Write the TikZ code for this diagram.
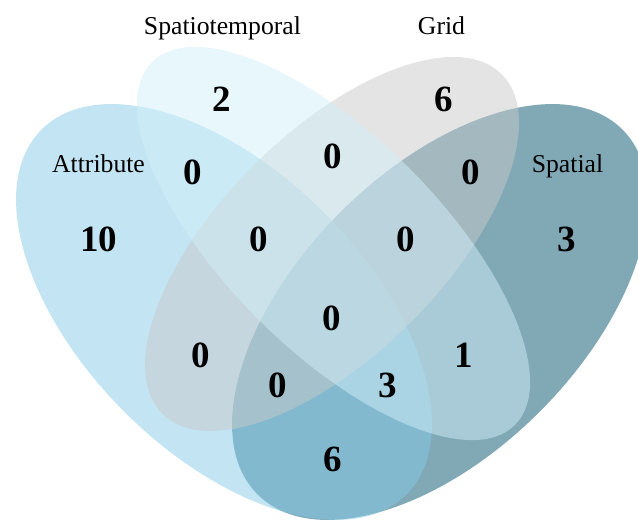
\documentclass[tikz,border=0pt]{standalone}
\usepackage{fontspec}
\setmainfont{Liberation Serif}
\definecolor{cA}{RGB}{135,203,231}
\definecolor{cB}{RGB}{209,239,249}
\definecolor{cC}{RGB}{201,201,201}
\definecolor{cD}{RGB}{2,82,108}
\begin{document}
\begin{tikzpicture}[x=1pt,y=-1pt,
  setfill/.style={fill=#1,fill opacity=0.5,draw=none},
  lbl/.style={font=\fontsize{25.7}{30}\selectfont,anchor=base,inner sep=0pt,text=black},
  num/.style={font=\fontsize{37}{40}\selectfont\bfseries,anchor=base,inner sep=0pt,text=black}]
\useasboundingbox (0,0) rectangle (638,521);
\begin{scope}
\clip (0,0) rectangle (638,521);
% Spatial (bottom layer)
\fill[setfill=cD, rotate around={45:(440,312)}] (440,312) ellipse [x radius=258pt, y radius=141pt];
% Attribute
\fill[setfill=cA, rotate around={-45:(224,312)}] (224,312) ellipse [x radius=258pt, y radius=141pt];
% Grid
\fill[setfill=cC, rotate around={45:(332,244)}] (332,244) ellipse [x radius=240pt, y radius=111pt];
% Spatiotemporal
\fill[setfill=cB, rotate around={-45:(333.5,243.5)}] (333.5,243.5) ellipse [x radius=256.6pt, y radius=106.8pt];
\end{scope}
% set labels
\node[lbl] (lA) at (98.5,173) {Attribute};
\node[lbl] (lB) at (222.5,35) {Spatiotemporal};
\node[lbl] (lC) at (441.5,35) {Grid};
\node[lbl] (lD) at (567.5,173) {Spatial};
% counts
\node[num] (nA) at (98.5,252) {10};
\node[num] (nB) at (221.5,112) {2};
\node[num] (nC) at (443.5,112) {6};
\node[num] (nD) at (567,252) {3};
\node[num] (nAB) at (193,185) {0};
\node[num] (nBC) at (333,169) {0};
\node[num] (nCD) at (471,185) {0};
\node[num] (nABC) at (259,252) {0};
\node[num] (nBCD) at (406,252) {0};
\node[num] (nABCD) at (332,331) {0};
\node[num] (nAC) at (201,368) {0};
\node[num] (nBD) at (463.5,368) {1};
\node[num] (nACD) at (277.5,398) {0};
\node[num] (nABD) at (387.5,398) {3};
\node[num] (nAD) at (332.5,472) {6};
\end{tikzpicture}
\end{document}
